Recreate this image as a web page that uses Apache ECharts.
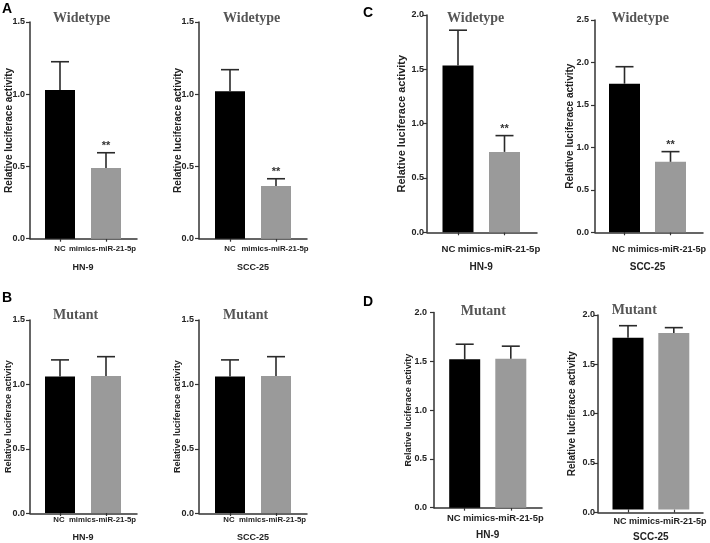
<!DOCTYPE html>
<html>
<head>
<meta charset="utf-8">
<script src="https://cdn.jsdelivr.net/npm/echarts@6/dist/echarts.min.js"></script>
<style>
html,body{margin:0;padding:0;background:#fff;}
#chart{width:710px;height:543px;}
</style>
</head>
<body>
<div id="chart"></div>
<script>
// ---------- DATA ----------
const categories = ['NC', 'mimics-miR-21-5p'];
const cellLines = ['HN-9', 'SCC-25', 'HN-9', 'SCC-25', 'HN-9', 'SCC-25', 'HN-9', 'SCC-25'];
const panelTitles = ['Widetype', 'Widetype', 'Mutant', 'Mutant', 'Widetype', 'Widetype', 'Mutant', 'Mutant'];
const panelLetters = ['A', 'B', 'C', 'D'];
const yMaxValues = [1.5, 1.5, 1.5, 1.5, 2.0, 2.5, 2.0, 2.0];
const yTickStep = 0.5;

const meanA1 = [1.03, 0.49];   const sdA1 = [0.195, 0.105]; const sigA1 = ['', '**'];
const meanA2 = [1.02, 0.365];  const sdA2 = [0.15, 0.05];   const sigA2 = ['', '**'];
const meanB1 = [1.06, 1.065];  const sdB1 = [0.13, 0.15];   const sigB1 = ['', ''];
const meanB2 = [1.06, 1.065];  const sdB2 = [0.13, 0.15];   const sigB2 = ['', ''];
const meanC1 = [1.535, 0.74];  const sdC1 = [0.325, 0.15];  const sigC1 = ['', '**'];
const meanC2 = [1.75, 0.83];   const sdC2 = [0.2, 0.12];    const sigC2 = ['', '**'];
const meanD1 = [1.52, 1.525];  const sdD1 = [0.155, 0.13];  const sigD1 = ['', ''];
const meanD2 = [1.765, 1.815]; const sdD2 = [0.125, 0.055]; const sigD2 = ['', ''];

const means = [meanA1, meanA2, meanB1, meanB2, meanC1, meanC2, meanD1, meanD2];
const sds = [sdA1, sdA2, sdB1, sdB2, sdC1, sdC2, sdD1, sdD2];
const sigs = [sigA1, sigA2, sigB1, sigB2, sigC1, sigC2, sigD1, sigD2];

// ---------- LAYOUT (pixel geometry, styles) ----------
const layout = [
  {ax:30,  end:137, top:22,    bot:238.7, c1:60,    sp:46,   bw:30, yNameGap:16,   yNameSize:10, yLabM:5, xLabM:6.5,  xLabSize:7.8, pads:[0, 7],   xNameGap:24.5, xNameSize:9,  tx:53,    ty:11},
  {ax:199, end:307, top:22,    bot:238.7, c1:230,   sp:46,   bw:30, yNameGap:16,   yNameSize:10, yLabM:5, xLabM:6.5,  xLabSize:7.8, pads:[0, 2],   xNameGap:24.5, xNameSize:9,  tx:223,   ty:11},
  {ax:30,  end:137, top:320,   bot:513.3, c1:60,    sp:46,   bw:30, yNameGap:16.5, yNameSize:9,  yLabM:5, xLabM:3,    xLabSize:7.8, pads:[2, 7],   xNameGap:20,   xNameSize:9,  tx:53,    ty:308},
  {ax:199, end:307, top:320,   bot:513.3, c1:230,   sp:46,   bw:30, yNameGap:16.5, yNameSize:9,  yLabM:5, xLabM:3,    xLabSize:7.8, pads:[2, 7],   xNameGap:20,   xNameSize:9,  tx:223,   ty:308},
  {ax:427, end:537, top:15,    bot:232.3, c1:458,   sp:46.5, bw:31, yNameGap:19.5, yNameSize:11, yLabM:3, xLabM:12.5, xLabSize:9.6, pads:[19, 11], xNameGap:29.5, xNameSize:10, tx:447,   ty:11},
  {ax:595, end:703, top:20,    bot:232.3, c1:624.5, sp:46,   bw:31, yNameGap:20,   yNameSize:10, yLabM:6, xLabM:12.5, xLabSize:9.1, pads:[12, 7],  xNameGap:29.5, xNameSize:10, tx:611.7, ty:11},
  {ax:434, end:542, top:312.5, bot:507.7, c1:464.7, sp:46.1, bw:31, yNameGap:20.5, yNameSize:9,  yLabM:7, xLabM:6,    xLabSize:9.4, pads:[22, 15], xNameGap:22.3, xNameSize:10, tx:460.7, ty:304},
  {ax:598, end:703, top:315,   bot:512.3, c1:628,   sp:45.8, bw:31, yNameGap:20.5, yNameSize:10, yLabM:3, xLabM:7.5,  xLabSize:9.0, pads:[16, 12], xNameGap:22.5, xNameSize:10, tx:611.7, ty:303}
];
const letterPos = [[2, 2], [2, 291], [363, 6], [363, 295]];
const barColors = ['#000000', '#9a9a9a'];
const axisColor = '#333';
const textColor = '#222';
const FONT = '"Liberation Sans", Arial, sans-serif';

// ---------- BUILD OPTION ----------
const grid = [], xAxis = [], yAxis = [], series = [], title = [];

layout.forEach((L, i) => {
  const h = L.bot - L.top;
  grid.push({left: L.ax, top: L.top, width: L.end - L.ax, height: h, containLabel: false});
  grid.push({left: L.c1 - L.sp / 2, top: L.top, width: 2 * L.sp, height: h, containLabel: false});
  const gf = 2 * i, gb = 2 * i + 1;

  xAxis.push({
    gridIndex: gf, type: 'value', min: 0, max: 1,
    axisLine: {show: true, onZero: false, lineStyle: {color: axisColor, width: 1.5}},
    axisTick: {show: false}, axisLabel: {show: false}, splitLine: {show: false}
  });
  xAxis.push({
    gridIndex: gb, type: 'category',
    data: categories.map((c, k) => ({value: c, textStyle: {padding: [0, L.pads[k], 0, 0]}})),
    axisLine: {show: false},
    axisTick: {show: true, alignWithLabel: true, length: 3, lineStyle: {color: axisColor, width: 1.2}},
    axisLabel: {interval: 0, hideOverlap: false, margin: L.xLabM, color: textColor,
      fontFamily: FONT, fontWeight: 'bold', fontSize: L.xLabSize},
    name: cellLines[i], nameLocation: 'middle', nameGap: L.xNameGap, nameMoveOverlap: false,
    nameTextStyle: {color: textColor, fontFamily: FONT, fontWeight: 'bold', fontSize: L.xNameSize}
  });
  yAxis.push({
    gridIndex: gf, type: 'value', min: 0, max: yMaxValues[i], interval: yTickStep,
    axisLine: {show: true, lineStyle: {color: axisColor, width: 1.5}},
    axisTick: {show: true, length: 4, lineStyle: {color: axisColor, width: 1.2}},
    axisLabel: {margin: L.yLabM, color: textColor, fontFamily: FONT, fontWeight: 'bold', fontSize: 9,
      formatter: v => v.toFixed(1)},
    splitLine: {show: false},
    name: 'Relative luciferace activity', nameLocation: 'middle', nameGap: L.yNameGap,
    nameMoveOverlap: false,
    nameTextStyle: {color: textColor, fontFamily: FONT, fontWeight: 'bold', fontSize: L.yNameSize}
  });
  yAxis.push({gridIndex: gb, type: 'value', min: 0, max: yMaxValues[i], show: false});

  const yb = 2 * i + 1;
  series.push({
    type: 'bar', xAxisIndex: yb, yAxisIndex: yb, barWidth: L.bw, z: 2,
    data: means[i].map((v, k) => ({value: v, itemStyle: {color: barColors[k]}})),
    silent: true, animation: false
  });
  const sig = sigs[i];
  series.push({
    type: 'custom', xAxisIndex: yb, yAxisIndex: yb, z: 3, silent: true, animation: false,
    data: means[i].map((v, k) => [k, v, v + sds[i][k]]),
    renderItem: function (params, api) {
      const x = api.value(0);
      const p0 = api.coord([x, api.value(1)]);
      const p1 = api.coord([x, api.value(2)]);
      const half = 9;
      const style = {stroke: '#2a2a2a', lineWidth: 1.6};
      const children = [
        {type: 'line', shape: {x1: p0[0], y1: p0[1], x2: p1[0], y2: p1[1]}, style: style},
        {type: 'line', shape: {x1: p1[0] - half, y1: p1[1], x2: p1[0] + half, y2: p1[1]}, style: style}
      ];
      const s = sig[params.dataIndex];
      if (s) {
        children.push({type: 'text', style: {text: s, x: p1[0], y: p1[1] - 1, align: 'center',
          verticalAlign: 'bottom', fill: '#333', font: 'bold 11px ' + FONT}});
      }
      return {type: 'group', children: children};
    }
  });

  title.push({
    text: panelTitles[i], left: L.tx, top: L.ty, padding: 0,
    textStyle: {fontFamily: '"Liberation Serif", "Times New Roman", serif', fontWeight: 'bold',
      fontSize: 14, color: '#555'}
  });
});

panelLetters.forEach((t, k) => {
  title.push({text: t, left: letterPos[k][0], top: letterPos[k][1], padding: 0,
    textStyle: {fontFamily: FONT, fontWeight: 'bold', fontSize: 14, color: '#000'}});
});

const chart = echarts.init(document.getElementById('chart'), null, {renderer: 'canvas'});
chart.setOption({
  backgroundColor: '#fff',
  animation: false,
  title: title,
  grid: grid,
  xAxis: xAxis,
  yAxis: yAxis,
  series: series
});
</script>
</body>
</html>
